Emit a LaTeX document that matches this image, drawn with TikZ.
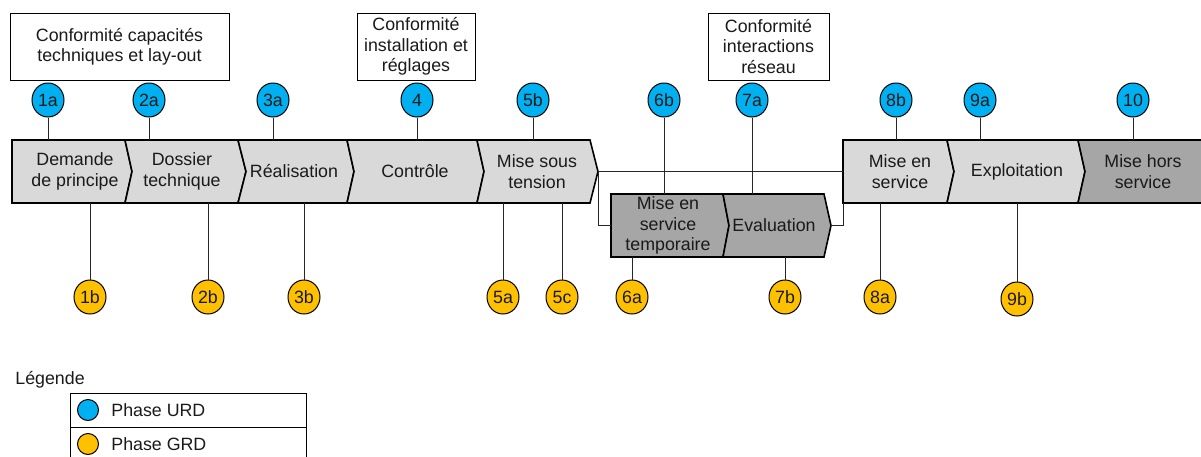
\documentclass[tikz,border=0pt]{standalone}
\usepackage{fontspec}
\setmainfont{Liberation Sans}
\usetikzlibrary{shapes.geometric}
\definecolor{urd}{HTML}{00B0F0}
\definecolor{grd}{HTML}{FFC000}
\definecolor{lightg}{HTML}{D9D9D9}
\definecolor{darkg}{HTML}{A6A6A6}
\definecolor{txt}{HTML}{1A1A1A}
\begin{document}
\begin{tikzpicture}[x=0.5pt,y=-0.5pt,
  font=\fontsize{8.9}{10.2}\selectfont, text=txt,
  chev/.style={draw=black, line width=0.8pt, line join=miter},
  lbl/.style={align=center, inner sep=0pt},
  urdc/.style={ellipse, draw=black, line width=0.5pt, fill=urd, minimum width=16pt, minimum height=17pt, inner sep=0pt},
  grdc/.style={ellipse, draw=black, line width=0.5pt, fill=grd, minimum width=16pt, minimum height=17pt, inner sep=0pt},
  legc/.style={circle, draw=black, line width=0.5pt, minimum size=10.5pt, inner sep=0pt},
  conn/.style={draw=black!85, line width=0.5pt},
  cbox/.style={draw=black, line width=0.5pt, fill=white, align=center, inner sep=0pt, minimum height=33.5pt}]
\useasboundingbox (0,0) rectangle (1201,456);

% main chevrons (top 140, bottom 203, mid 171.5)
\draw[chev,fill=lightg] (12,140) -- (125,140) -- (132,171.5) -- (125,203) -- (12,203) -- cycle;
\draw[chev,fill=lightg] (125,140) -- (238,140) -- (246,171.5) -- (238,203) -- (125,203) -- (132,171.5) -- cycle;
\draw[chev,fill=lightg] (238,140) -- (347,140) -- (354,171.5) -- (347,203) -- (238,203) -- (246,171.5) -- cycle;
\draw[chev,fill=lightg] (347,140) -- (477,140) -- (484,171.5) -- (477,203) -- (347,203) -- (354,171.5) -- cycle;
\draw[chev,fill=lightg] (477,140) -- (590,140) -- (598,171.5) -- (590,203) -- (477,203) -- (484,171.5) -- cycle;
\draw[chev,fill=lightg] (843,140) -- (947,140) -- (954,171.5) -- (947,203) -- (843,203) -- cycle;
\draw[chev,fill=lightg] (947,140) -- (1078,140) -- (1085,171.5) -- (1078,203) -- (947,203) -- (954,171.5) -- cycle;
\draw[chev,fill=darkg] (1078,140) -- (1204,140) -- (1204,203) -- (1078,203) -- (1085,171.5) -- cycle;
% lower chevrons (top 194, bottom 257, mid 225.5)
\draw[chev,fill=darkg] (611,194) -- (723,194) -- (729,225.5) -- (723,257) -- (611,257) -- cycle;
\draw[chev,fill=darkg] (723,194) -- (824,194) -- (831,225.5) -- (824,257) -- (723,257) -- (729,225.5) -- cycle;

% labels
\node[lbl] (p1) at (75,171.5) {Demande\\de principe};
\node[lbl] (p2) at (182,171.5) {Dossier\\technique};
\node[lbl] (p3) at (294,171.5) {Réalisation};
\node[lbl] (p4) at (415,171.5) {Contrôle};
\node[lbl] (p5) at (537,171.5) {Mise sous\\tension};
\node[lbl] (p8) at (900,171.5) {Mise en\\service};
\node[lbl] (p9) at (1017,171.5) {Exploitation};
\node[lbl] (p10) at (1143,171.5) {Mise hors\\service};
\node[lbl] (p6) at (668,225.5) {Mise en\\service\\temporaire};
\node[lbl] (p7) at (774,225.5) {Evaluation};

% branch coordinates
\coordinate (mstTip) at (598,171.5);
\coordinate (mstDown) at (598,225.5);
\coordinate (tmpLeft) at (611,225.5);
\coordinate (evTip) at (831,225.5);
\coordinate (evRight) at (843,225.5);
\coordinate (mesLeft) at (843,171.5);
\coordinate (mesBot) at (843,203);
\draw[conn] (mstTip) -- (mesLeft);
\draw[conn] (mstTip) -- (mstDown) -- (tmpLeft);
\draw[conn] (evTip) -- (evRight) -- (mesBot);

% top boxes
\node[cbox, minimum width=109.5pt] (b1) at (119.5,46.5) {Conformité capacités\\techniques et lay-out};
\node[cbox, minimum width=59pt] (b2) at (416,46.5) {Conformité\\installation et\\réglages};
\node[cbox, minimum width=60.5pt] (b3) at (768.5,46.5) {Conformité\\interactions\\réseau};

% URD circles
\foreach \n/\x in {1a/48,2a/149,3a/273,4/417,5b/533,8b/896,9a/980,10/1133}{
  \node[urdc] (u\n) at (\x,100) {\n};
  \coordinate (ut\n) at (\x,140);
  \draw[conn] (u\n) -- (ut\n);
}
\foreach \n/\x in {6b/664,7a/752}{
  \node[urdc] (u\n) at (\x,100) {\n};
  \coordinate (ut\n) at (\x,194);
  \draw[conn] (u\n) -- (ut\n);
}
% GRD circles
\foreach \n/\x in {1b/90,2b/208,3b/304,5a/503,5c/562,8a/880}{
  \node[grdc] (g\n) at (\x,297) {\n};
  \coordinate (gt\n) at (\x,203);
  \draw[conn] (gt\n) -- (g\n);
}
\foreach \n/\x in {6a/632,7b/785}{
  \node[grdc] (g\n) at (\x,297) {\n};
  \coordinate (gt\n) at (\x,257);
  \draw[conn] (gt\n) -- (g\n);
}
\node[grdc] (g9b) at (1017,299) {9b};
\coordinate (gt9b) at (1017,203);
\draw[conn] (gt9b) -- (g9b);

% legend
\node[anchor=base west, inner sep=0pt] (leg) at (15,384) {Légende};
\draw[line width=0.5pt] (70,393) rectangle (306,427);
\draw[line width=0.5pt] (70,427) rectangle (306,461);
\node[legc, fill=urd] (lu) at (88,410) {};
\node[legc, fill=grd] (lg) at (88,444) {};
\node[anchor=west, inner sep=0pt] (lut) at (111,410) {Phase URD};
\node[anchor=west, inner sep=0pt] (lgt) at (111,444) {Phase GRD};
\end{tikzpicture}
\end{document}
